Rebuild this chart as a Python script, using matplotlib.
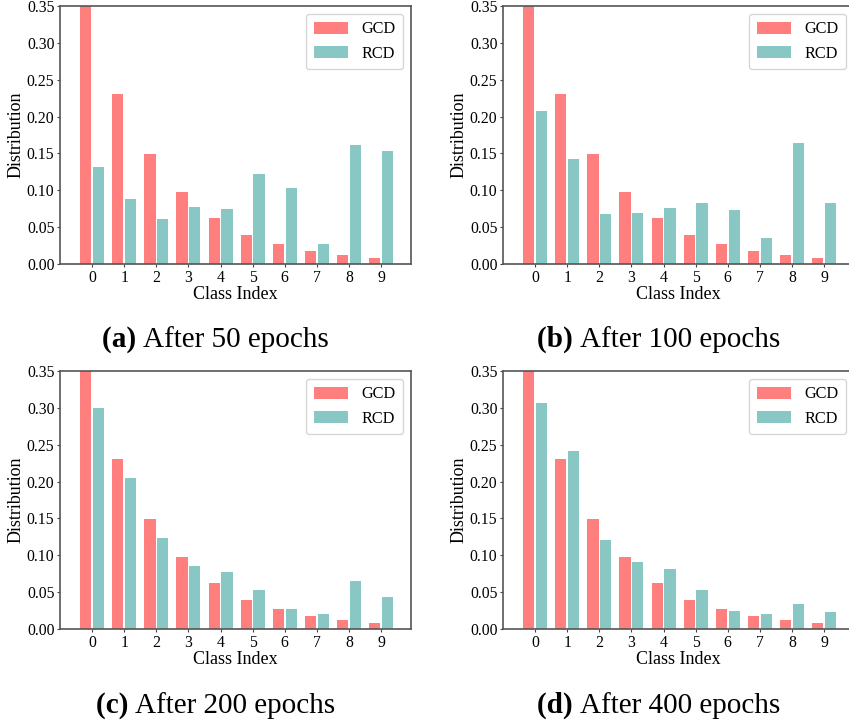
"""Class distribution of GCD and RCD after several training epochs."""
import numpy as np
from matplotlib import pyplot as plt
from matplotlib.ticker import FormatStrFormatter

classes = list(range(10))
gcd = [0.356, 0.231, 0.149, 0.097, 0.062, 0.040, 0.027, 0.017, 0.012, 0.008]
rcd_50 = [0.131, 0.088, 0.061, 0.078, 0.074, 0.122, 0.103, 0.027, 0.161, 0.153]
rcd_100 = [0.207, 0.142, 0.068, 0.069, 0.076, 0.083, 0.073, 0.035, 0.164, 0.083]
rcd_200 = [0.300, 0.205, 0.123, 0.085, 0.078, 0.053, 0.027, 0.021, 0.065, 0.043]
rcd_400 = [0.307, 0.242, 0.121, 0.091, 0.081, 0.053, 0.025, 0.021, 0.034, 0.023]
captions = [("(a)", "After 50 epochs"), ("(b)", "After 100 epochs"),
            ("(c)", "After 200 epochs"), ("(d)", "After 400 epochs")]

plt.rcParams['font.family'] = ['Liberation Serif', 'DejaVu Serif']

W, H = 849, 726
fig = plt.figure(figsize=(W / 100, H / 100), dpi=100)
renderer = fig.canvas.get_renderer()

# axes boxes in pixels: left, top, right, bottom
boxes = [(60, 6, 411, 264), (503, 6, 854, 264),
         (60, 371, 411, 629), (503, 371, 854, 629)]
rcd_all = [rcd_50, rcd_100, rcd_200, rcd_400]
caption_base = [347, 347, 713, 713]

x = np.array(classes)
for (l, t, r, b), rcd, (tag, text), cy in zip(boxes, rcd_all, captions, caption_base):
    ax = fig.add_axes([l / W, 1 - b / H, (r - l) / W, (b - t) / H])
    ax.bar(x - 0.2, gcd, width=0.35, color='#FF7F7F', label='GCD')
    ax.bar(x + 0.2, rcd, width=0.35, color='#88C7C3', label='RCD')
    ax.set_xlim(-1.0, 9.93)
    ax.set_ylim(0, 0.35)
    ax.set_xticks(classes)
    ax.set_yticks(np.arange(0, 0.36, 0.05))
    ax.yaxis.set_major_formatter(FormatStrFormatter('%.2f'))
    ax.tick_params(labelsize=11.3, length=2.5, pad=1.5, color='#444444')
    ax.set_xlabel('Class Index', fontsize=13, labelpad=0)
    ax.set_ylabel('Distribution', fontsize=13, labelpad=2)
    ax.legend(loc='upper right', fontsize=11.7, handlelength=2.15,
              handleheight=0.8, borderpad=0.45, labelspacing=0.5)
    for s in ax.spines.values():
        s.set_color('#555555')
        s.set_linewidth(1.2)

    # caption: bold tag followed by regular text, centred under the axes
    cx = (l + r) / 2 - 20
    t1 = fig.text(0, 1 - cy / H, tag + ' ', fontsize=21, fontweight='bold',
                  ha='left', va='baseline')
    t2 = fig.text(0, 1 - cy / H, text, fontsize=21, ha='left', va='baseline')
    w1 = t1.get_window_extent(renderer).width
    w2 = t2.get_window_extent(renderer).width
    x0 = cx - (w1 + w2) / 2
    t1.set_x(x0 / W)
    t2.set_x((x0 + w1) / W)

fig.savefig('out.png', dpi=100)
